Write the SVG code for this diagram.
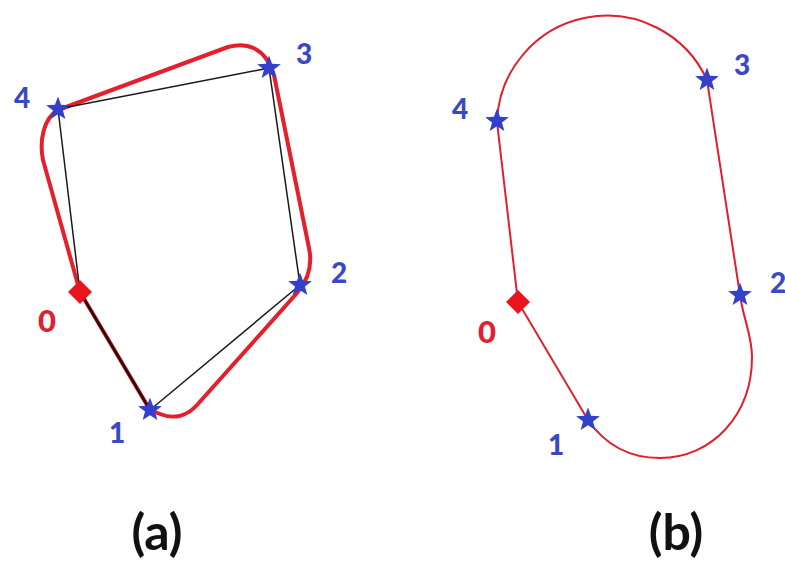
<svg xmlns="http://www.w3.org/2000/svg" width="785" height="568" viewBox="0 0 785 568">
<style>
.lbl{font-family:Lato,"Open Sans","Liberation Sans",sans-serif;font-weight:900;font-size:28px;fill:#3b48c4;text-anchor:middle}
.lbl0{font-family:Lato,"Open Sans","Liberation Sans",sans-serif;font-weight:900;font-size:31px;fill:#e0202e;text-anchor:middle}
.cap{font-family:Lato,"Open Sans","Liberation Sans",sans-serif;font-weight:bold;font-size:50px;fill:#111;text-anchor:middle}
.redA{fill:none;stroke:#e4202c;stroke-width:4;stroke-linejoin:round}
.redB{fill:none;stroke:#e0202e;stroke-width:2}
.blk{fill:none;stroke:#1a1a1a;stroke-width:1.5}
.star{fill:#3340cc}
.dia{fill:#e8141e}
</style>
<defs>
<path id="star" d="M0,-12.5 L3.06,-4.21 L11.89,-3.86 L4.96,1.61 L7.35,10.11 L0,5.2 L-7.35,10.11 L-4.96,1.61 L-11.89,-3.86 L-3.06,-4.21 Z"/>
<path id="diamond" d="M0,-12 L12,0 L0,12 L-12,0 Z"/>
</defs>
<rect width="785" height="568" fill="#ffffff"/>
<g id="connectors">
<path class="redA" d="M80,292 L43,160 C39,140 44,118 58,110 L228,47 C245,42 265,46 274,75 L309,248 C312,262 310,278 297,293 L197,405 C188,415 175,420 160,414 L150,410 Z"/>
<path class="blk" d="M58,109 L269,68 L300,285 L150,410 M80,292 L58,109"/>
<path d="M80,292 L150,410" fill="none" stroke="#2a0a0a" stroke-width="2.5"/>
<path class="redB" d="M518,302 L497,122 A110,110 0 0 1 707,80 L740,295 C743,318 752,335 752,357 C752,415 712,458 660,458 C630,458 606,446 588,420 Z"/>
</g>
<g id="a-node0"><use href="#diamond" class="dia" x="80" y="292"/><text class="lbl0" x="47" y="332">0</text></g>
<g id="a-node1"><use href="#star" class="star" x="150" y="410"/><text class="lbl" x="117" y="443">1</text></g>
<g id="a-node2"><use href="#star" class="star" x="300" y="285"/><text class="lbl" x="339" y="283">2</text></g>
<g id="a-node3"><use href="#star" class="star" x="269" y="68"/><text class="lbl" x="304" y="64">3</text></g>
<g id="a-node4"><use href="#star" class="star" x="58" y="109"/><text class="lbl" x="22" y="108">4</text></g>
<g id="b-node0"><use href="#diamond" class="dia" x="518" y="302"/><text class="lbl0" x="487" y="343">0</text></g>
<g id="b-node1"><use href="#star" class="star" x="588" y="420"/><text class="lbl" x="556" y="455">1</text></g>
<g id="b-node2"><use href="#star" class="star" x="740" y="295"/><text class="lbl" x="778" y="293">2</text></g>
<g id="b-node3"><use href="#star" class="star" x="707" y="80"/><text class="lbl" x="742" y="75">3</text></g>
<g id="b-node4"><use href="#star" class="star" x="497" y="121"/><text class="lbl" x="460" y="119">4</text></g>
<g id="captions">
<text class="cap" x="157" y="550">(a)</text>
<text class="cap" x="676" y="550">(b)</text>
</g>
</svg>
